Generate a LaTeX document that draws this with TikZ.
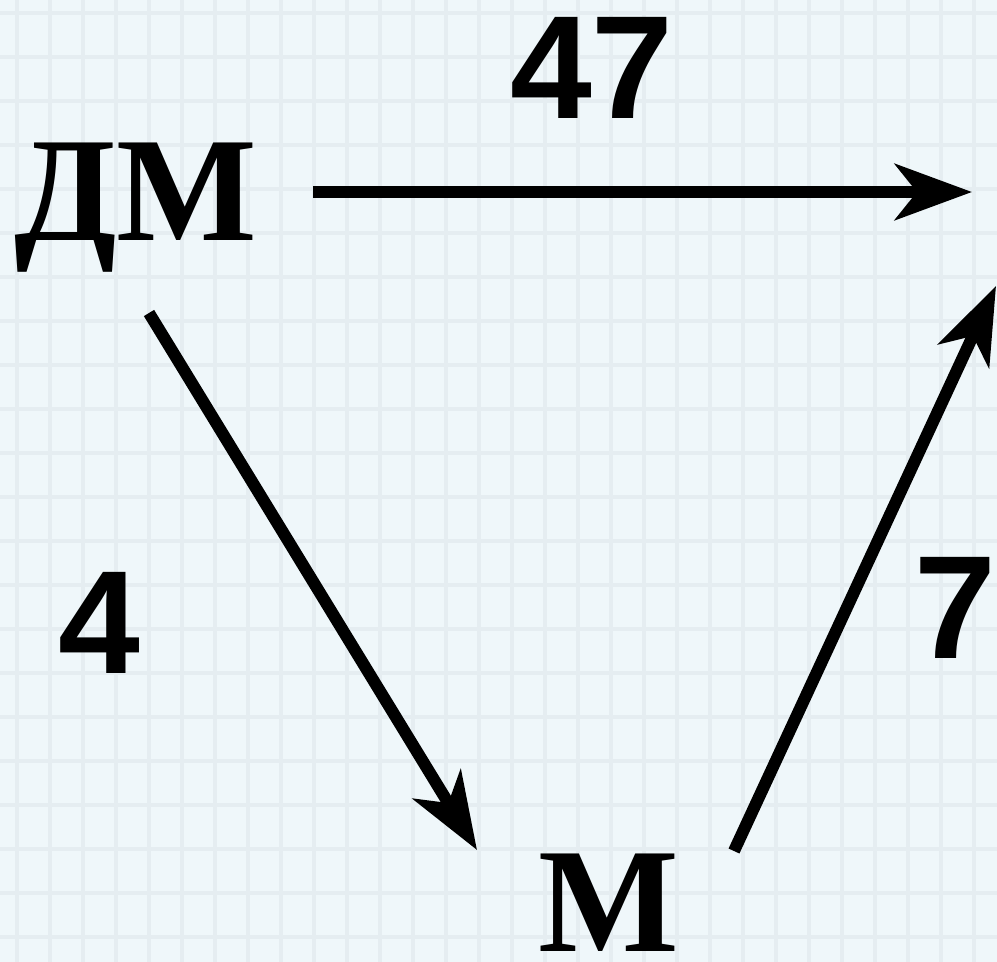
\documentclass[tikz,border=0pt]{standalone}
\usepackage{fontspec}
\usepackage{xcolor}
\usetikzlibrary{arrows.meta}
\newfontfamily\serifbold{Liberation Serif}
\newfontfamily\sansbold{Liberation Sans}
\definecolor{paper}{RGB}{239,247,250}
\definecolor{gridblue}{RGB}{229,237,241}

\begin{document}
\begin{tikzpicture}[
    x=1pt, y=-1pt,
    word/.style={font=\serifbold\bfseries\fontsize{149}{149}\selectfont, inner sep=0pt, anchor=base west},
    num/.style={font=\sansbold\bfseries\fontsize{147}{147}\selectfont, inner sep=0pt, anchor=base west},
    arrow/.style={-{Stealth[length=77pt, width=56pt, inset=22pt]}, line width=12pt},
    gridline/.style={gridblue, line width=4pt}
  ]
    % background paper
    \useasboundingbox (0,0) rectangle (997,962);
    \fill[paper] (0,0) rectangle (997,962);
    \foreach \gx in {17,50,...,983}
      \draw[gridline] (\gx,0) -- (\gx,962);
    \foreach \gy in {13,57,...,960}
      \draw[gridline] (0,\gy) -- (997,\gy);

    % labels
    \node[word] (dm) at (14,240) {ДМ};
    \node[word] (m) at (538,951) {М};
    \node[num] (n47) at (510,118) {47};
    \node[num] (n4) at (58,673) {4};
    \node[num] (n7) at (914,658) {7};

    % arrow ends
    \coordinate (dmE) at (313,192);
    \coordinate (tr) at (972,192);
    \coordinate (dmS) at (149,313);
    \coordinate (mW) at (477,850);
    \coordinate (mE) at (734,851);
    \coordinate (trS) at (996,286);

    \draw[arrow] (dmE) -- (tr);
    \draw[arrow] (dmS) -- (mW);
    \draw[arrow] (mE) -- (trS);
\end{tikzpicture}
\end{document}
